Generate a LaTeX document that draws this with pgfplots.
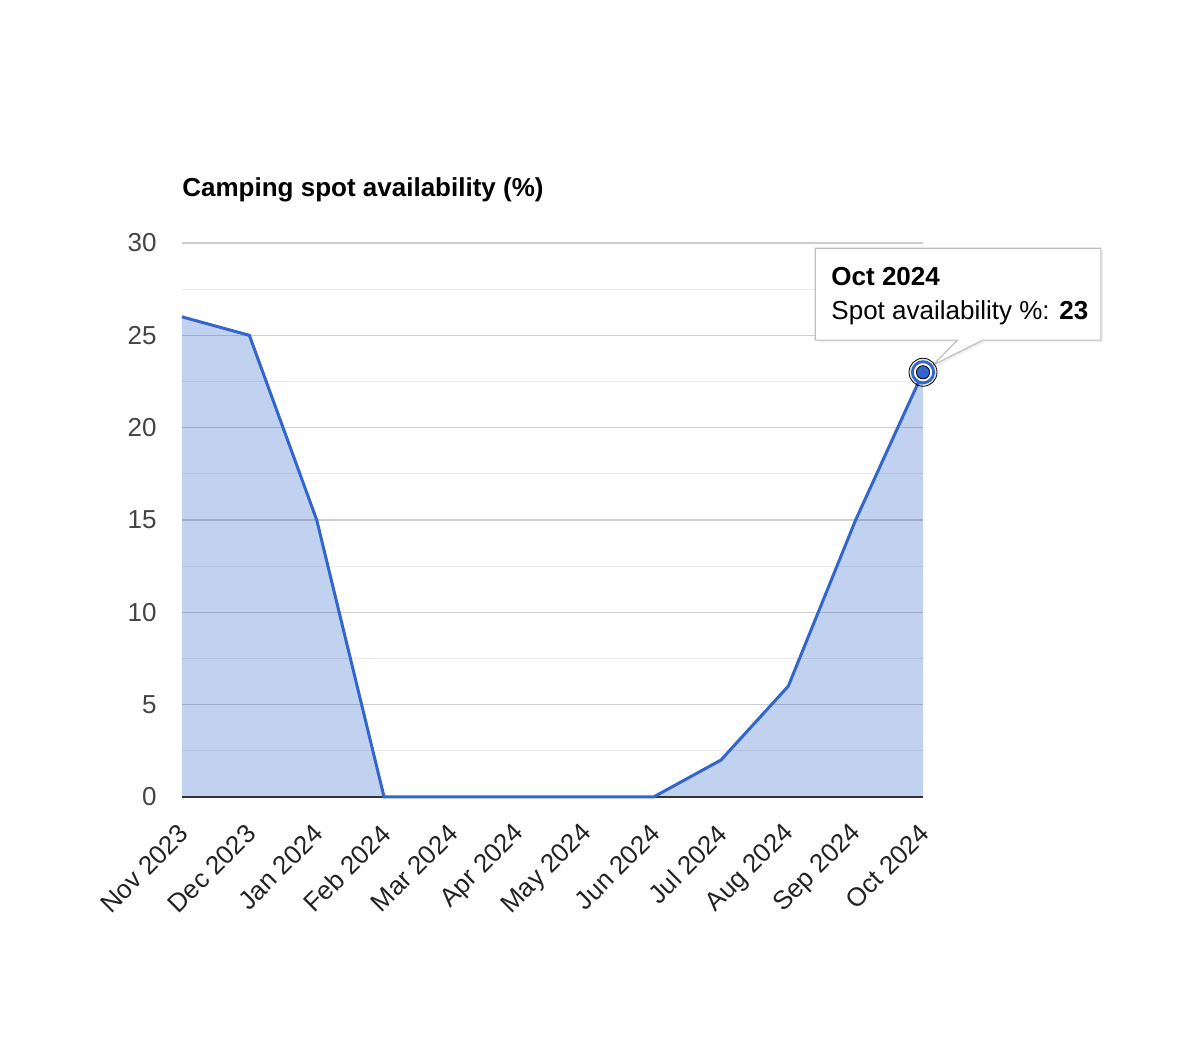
\documentclass[border=0pt]{standalone}
\usepackage{fontspec}
\setmainfont{Liberation Sans}
\usepackage{pgfplots}
\pgfplotsset{compat=1.18}
\usetikzlibrary{shadows}
\definecolor{gline}{HTML}{3366CC}
\definecolor{gridmaj}{HTML}{CCCCCC}
\definecolor{gridmin}{HTML}{EBEBEB}
\definecolor{ylab}{HTML}{444444}
\definecolor{xlab}{HTML}{222222}
\newcommand{\lbl}{\fontsize{13}{15}\selectfont}

\begin{document}
\begin{tikzpicture}
\begin{axis}[
    name=ax,
    scale only axis,
    width=370.5pt, height=277pt,
    xmin=0, xmax=11, ymin=0, ymax=30,
    xtick={0,...,11},
    xticklabels={Nov 2023,Dec 2023,Jan 2024,Feb 2024,Mar 2024,Apr 2024,May 2024,Jun 2024,Jul 2024,Aug 2024,Sep 2024,Oct 2024},
    x tick label style={anchor=east, inner sep=0pt, xshift=1pt, yshift=-16pt, rotate=45, font=\lbl, text=xlab},
    ytick={0,5,...,30},
    minor ytick={2.5,7.5,...,27.5},
    ymajorgrids, yminorgrids,
    major grid style={color=gridmaj, line width=0.6pt},
    minor grid style={color=gridmin, line width=0.6pt},
    y tick label style={anchor=east, inner sep=0pt, xshift=-12.5pt, font=\lbl, text=ylab},
    /pgf/number format/assume math mode=true,
    axis line style={draw=none},
    major tick length=0pt, minor tick length=0pt,
    clip=false,
    title={\textbf{Camping spot availability (\%)}},
    title style={at={(0,1)}, anchor=base west, inner sep=0pt, yshift=17pt, font=\lbl},
]
\addplot[draw=none, fill=gline, fill opacity=0.3] coordinates {
    (0,26) (1,25) (2,15) (3,0) (4,0) (5,0) (6,0) (7,0) (8,2) (9,6) (10,15) (11,23)
} \closedcycle;
\draw[color=black!80, line width=1pt] (axis cs:0,0) -- (axis cs:11,0);
\addplot[gline, line width=1.5pt] coordinates {
    (0,26) (1,25) (2,15) (3,0) (4,0) (5,0) (6,0) (7,0) (8,2) (9,6) (10,15) (11,23)
};
% tooltip
\draw[fill=white, draw=black!25, line width=0.6pt, drop shadow={opacity=0.12, shadow xshift=1pt, shadow yshift=-1pt}]
    (axis cs:9.40,29.72) -- (axis cs:13.64,29.72) -- (axis cs:13.64,24.74)
    -- (axis cs:11.89,24.74) -- (axis cs:11.15,23.39) -- (axis cs:11.51,24.74)
    -- (axis cs:9.40,24.74) -- cycle;
\node[anchor=base west, inner sep=0pt, font=\lbl] at (axis cs:9.635,27.72) {\textbf{Oct 2024}};
\node[anchor=base west, inner sep=0pt, font=\lbl] at (axis cs:9.635,25.88) {Spot availability \%: \textbf{23}};
\addplot[only marks, mark=*, mark size=7pt, mark options={draw=none, fill=black, fill opacity=0.1}] coordinates {(11,23)};
\addplot[only marks, mark=*, mark size=5.3pt, mark options={draw=gline, line width=1.4pt, fill=white}] coordinates {(11,23)};
\addplot[only marks, mark=*, mark size=3.3pt, mark options={draw=none, fill=gline}] coordinates {(11,23)};
\end{axis}
\pgfresetboundingbox
\path (ax.south west) ++(-91pt,-130.5pt) rectangle ++(593pt,529pt);
\end{tikzpicture}
\end{document}
